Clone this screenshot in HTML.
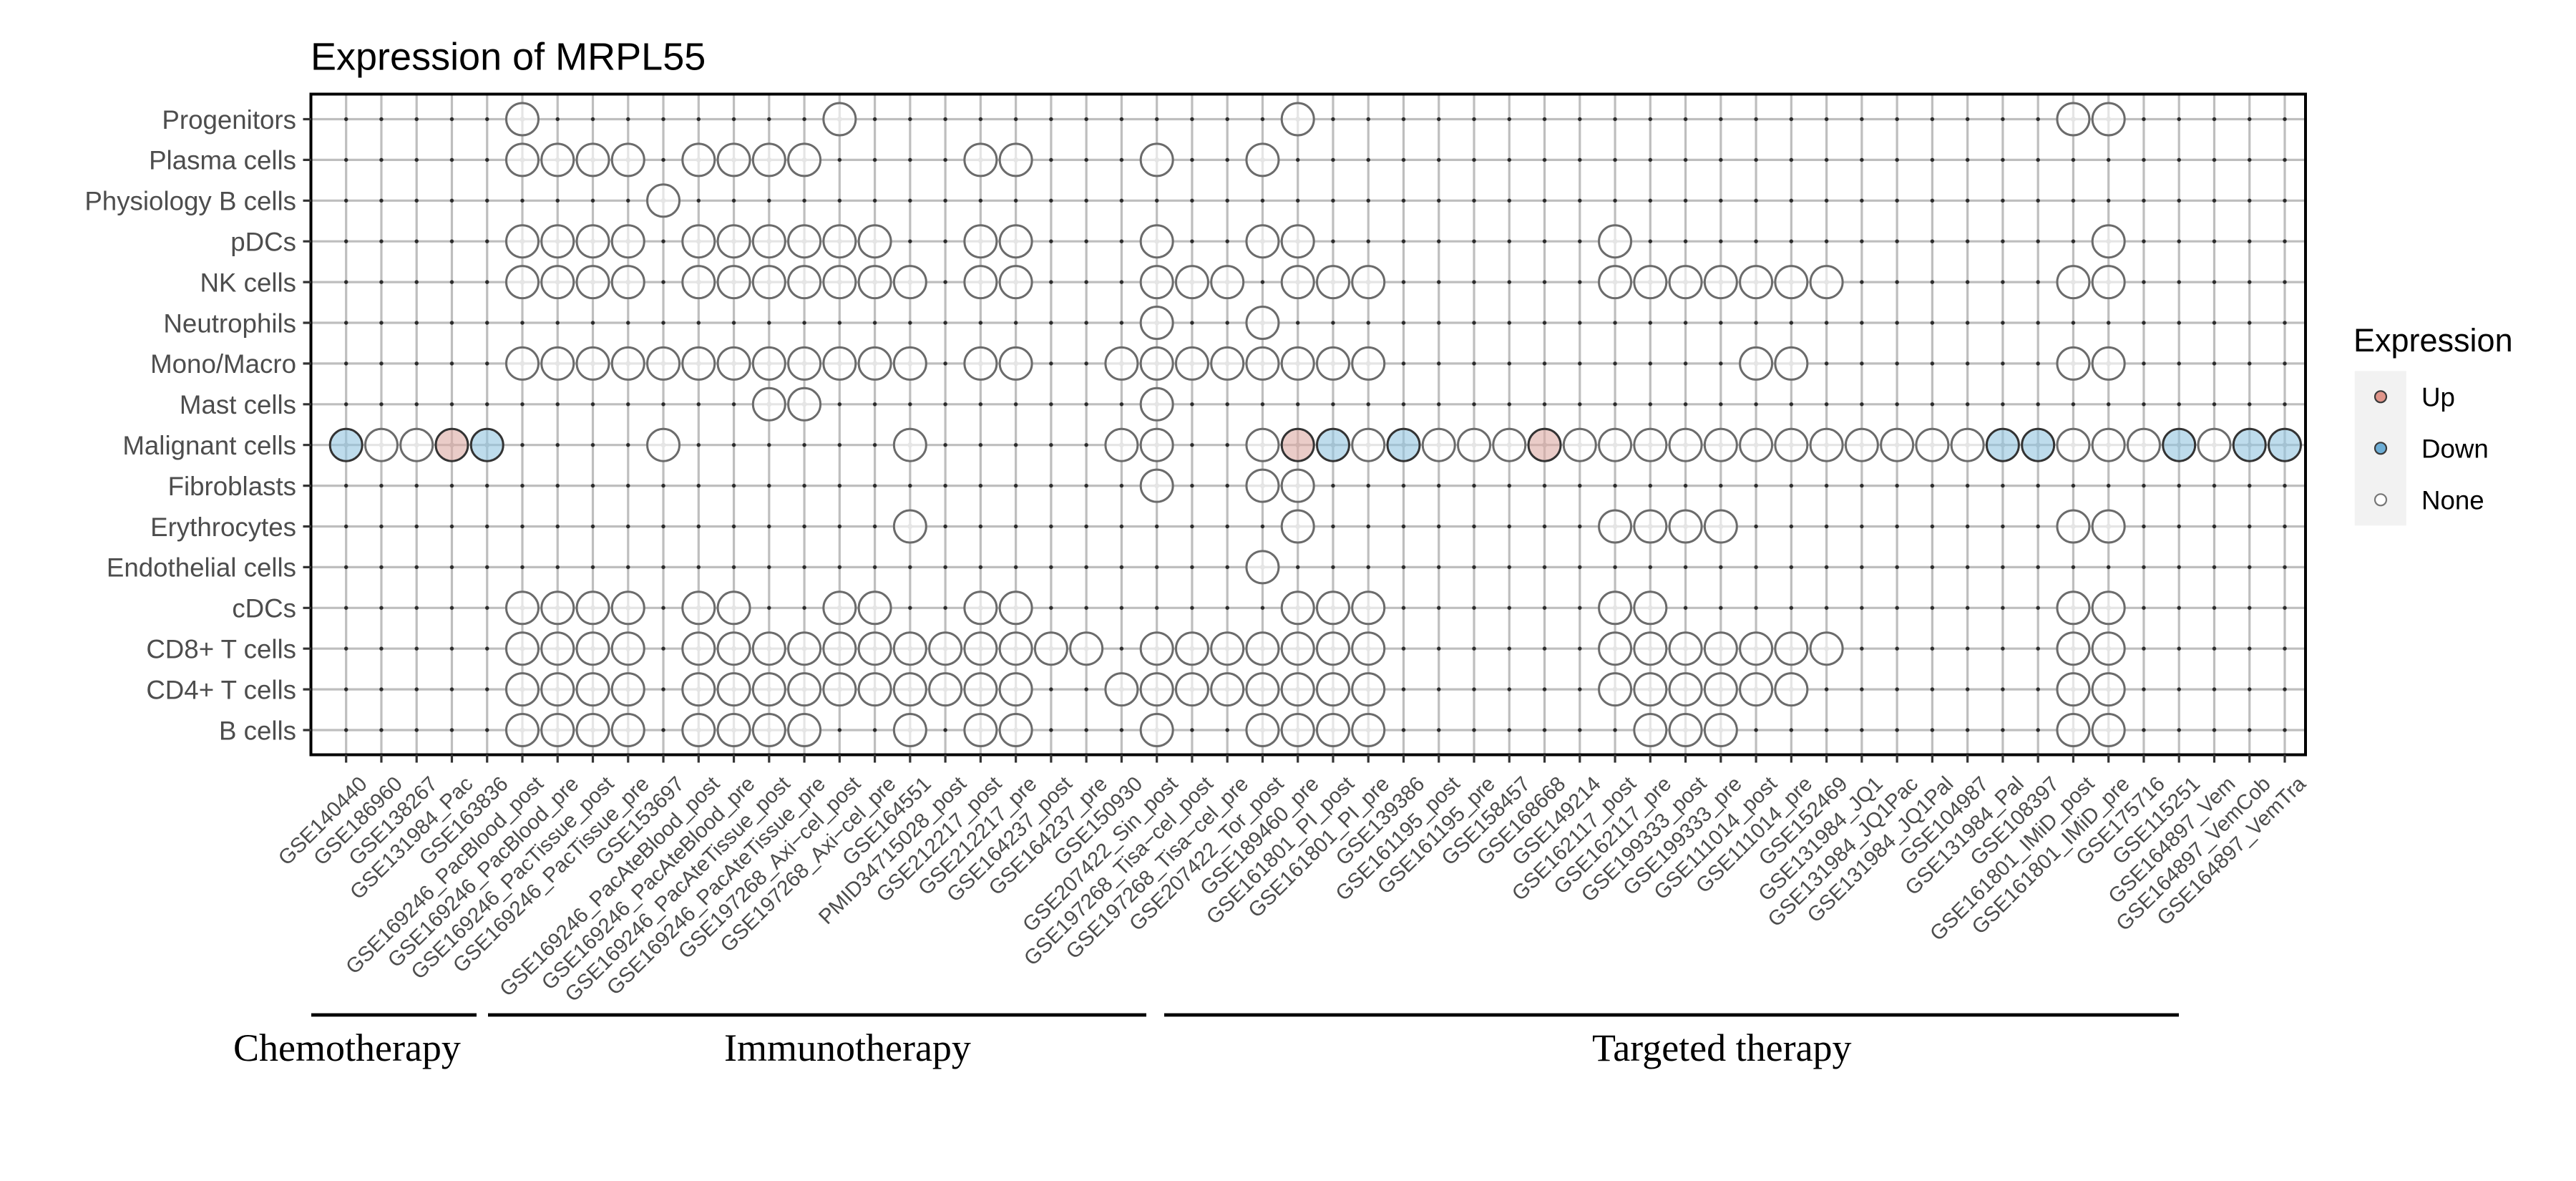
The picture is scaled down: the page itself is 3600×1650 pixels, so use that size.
<!DOCTYPE html>
<html>
<head>
<meta charset="utf-8">
<style>
html,body{margin:0;padding:0;background:#fff;}
svg{display:block;}
.yl{font-family:"Liberation Sans",Arial,sans-serif;font-size:36.7px;fill:#4d4d4d;text-anchor:end;}
.xl{font-family:"Liberation Sans",Arial,sans-serif;font-size:29.5px;fill:#4d4d4d;text-anchor:end;}
.ann{font-family:"Liberation Serif","Times New Roman",serif;font-size:54px;fill:#000;}
</style>
</head>
<body>
<svg width="3600" height="1650" viewBox="0 0 3600 1650" xmlns="http://www.w3.org/2000/svg" xmlns:xlink="http://www.w3.org/1999/xlink">
<defs>
<pattern id="dots" patternUnits="userSpaceOnUse" x="459.07" y="138.05" width="49.26" height="56.9">
<circle cx="24.63" cy="28.45" r="2.7" fill="#2b2b2b"/>
</pattern>
<g id="n"><circle r="3.5" fill="#bebebe"/><circle r="22.5" fill="#ffffff" fill-opacity="0.6" stroke="#6b6b6b" stroke-width="3"/></g>
<g id="d"><circle r="3.5" fill="#bebebe"/><circle r="22.5" fill="#93c5df" fill-opacity="0.6" stroke="#333333" stroke-width="3"/></g>
<g id="u"><circle r="3.5" fill="#bebebe"/><circle r="22.5" fill="#dcaaa3" fill-opacity="0.6" stroke="#333333" stroke-width="3"/></g>
</defs>
<rect width="3600" height="1650" fill="#fff"/>

<!-- title -->
<text x="434" y="97.6" style="font-family:'Liberation Sans',Arial,sans-serif;font-size:54px;fill:#000;">Expression of MRPL55</text>

<!-- grid -->
<path fill="none" stroke="#bebebe" stroke-width="3.2" d="
M483.7 131V1055M532.96 131V1055M582.22 131V1055M631.48 131V1055M680.74 131V1055M730 131V1055M779.26 131V1055M828.52 131V1055M877.78 131V1055M927.04 131V1055
M976.3 131V1055M1025.56 131V1055M1074.82 131V1055M1124.08 131V1055M1173.34 131V1055M1222.6 131V1055M1271.86 131V1055M1321.12 131V1055M1370.38 131V1055M1419.64 131V1055
M1468.9 131V1055M1518.16 131V1055M1567.42 131V1055M1616.68 131V1055M1665.94 131V1055M1715.2 131V1055M1764.46 131V1055M1813.72 131V1055M1862.98 131V1055M1912.24 131V1055
M1961.5 131V1055M2010.76 131V1055M2060.02 131V1055M2109.28 131V1055M2158.54 131V1055M2207.8 131V1055M2257.06 131V1055M2306.32 131V1055M2355.58 131V1055M2404.84 131V1055
M2454.1 131V1055M2503.36 131V1055M2552.62 131V1055M2601.88 131V1055M2651.14 131V1055M2700.4 131V1055M2749.66 131V1055M2798.92 131V1055M2848.18 131V1055M2897.44 131V1055
M2946.7 131V1055M2995.96 131V1055M3045.22 131V1055M3094.48 131V1055M3143.74 131V1055M3193 131V1055
M435 166.5H3222M435 223.4H3222M435 280.3H3222M435 337.2H3222M435 394.1H3222M435 451H3222M435 507.9H3222M435 564.8H3222
M435 621.7H3222M435 678.6H3222M435 735.5H3222M435 792.4H3222M435 849.3H3222M435 906.2H3222M435 963.1H3222M435 1020H3222"/>

<!-- intersection dots -->
<rect x="459.07" y="138.05" width="2758.56" height="910.4" fill="url(#dots)"/>

<!-- circles -->
<g transform="translate(0,166.5)">
<use href="#n" x="730"/><use href="#n" x="1173.34"/><use href="#n" x="1813.72"/><use href="#n" x="2897.44"/><use href="#n" x="2946.7"/>
</g>
<g transform="translate(0,223.4)">
<use href="#n" x="730"/><use href="#n" x="779.26"/><use href="#n" x="828.52"/><use href="#n" x="877.78"/><use href="#n" x="976.3"/><use href="#n" x="1025.56"/><use href="#n" x="1074.82"/><use href="#n" x="1124.08"/><use href="#n" x="1370.38"/><use href="#n" x="1419.64"/><use href="#n" x="1616.68"/><use href="#n" x="1764.46"/>
</g>
<g transform="translate(0,280.3)">
<use href="#n" x="927.04"/>
</g>
<g transform="translate(0,337.2)">
<use href="#n" x="730"/><use href="#n" x="779.26"/><use href="#n" x="828.52"/><use href="#n" x="877.78"/><use href="#n" x="976.3"/><use href="#n" x="1025.56"/><use href="#n" x="1074.82"/><use href="#n" x="1124.08"/><use href="#n" x="1173.34"/><use href="#n" x="1222.6"/><use href="#n" x="1370.38"/><use href="#n" x="1419.64"/><use href="#n" x="1616.68"/><use href="#n" x="1764.46"/><use href="#n" x="1813.72"/><use href="#n" x="2257.06"/><use href="#n" x="2946.7"/>
</g>
<g transform="translate(0,394.1)">
<use href="#n" x="730"/><use href="#n" x="779.26"/><use href="#n" x="828.52"/><use href="#n" x="877.78"/><use href="#n" x="976.3"/><use href="#n" x="1025.56"/><use href="#n" x="1074.82"/><use href="#n" x="1124.08"/><use href="#n" x="1173.34"/><use href="#n" x="1222.6"/><use href="#n" x="1271.86"/><use href="#n" x="1370.38"/><use href="#n" x="1419.64"/><use href="#n" x="1616.68"/><use href="#n" x="1665.94"/><use href="#n" x="1715.2"/><use href="#n" x="1813.72"/><use href="#n" x="1862.98"/><use href="#n" x="1912.24"/><use href="#n" x="2257.06"/><use href="#n" x="2306.32"/><use href="#n" x="2355.58"/><use href="#n" x="2404.84"/><use href="#n" x="2454.1"/><use href="#n" x="2503.36"/><use href="#n" x="2552.62"/><use href="#n" x="2897.44"/><use href="#n" x="2946.7"/>
</g>
<g transform="translate(0,451)">
<use href="#n" x="1616.68"/><use href="#n" x="1764.46"/>
</g>
<g transform="translate(0,507.9)">
<use href="#n" x="730"/><use href="#n" x="779.26"/><use href="#n" x="828.52"/><use href="#n" x="877.78"/><use href="#n" x="927.04"/><use href="#n" x="976.3"/><use href="#n" x="1025.56"/><use href="#n" x="1074.82"/><use href="#n" x="1124.08"/><use href="#n" x="1173.34"/><use href="#n" x="1222.6"/><use href="#n" x="1271.86"/><use href="#n" x="1370.38"/><use href="#n" x="1419.64"/><use href="#n" x="1567.42"/><use href="#n" x="1616.68"/><use href="#n" x="1665.94"/><use href="#n" x="1715.2"/><use href="#n" x="1764.46"/><use href="#n" x="1813.72"/><use href="#n" x="1862.98"/><use href="#n" x="1912.24"/><use href="#n" x="2454.1"/><use href="#n" x="2503.36"/><use href="#n" x="2897.44"/><use href="#n" x="2946.7"/>
</g>
<g transform="translate(0,564.8)">
<use href="#n" x="1074.82"/><use href="#n" x="1124.08"/><use href="#n" x="1616.68"/>
</g>
<g transform="translate(0,621.7)">
<use href="#d" x="483.7"/><use href="#n" x="532.96"/><use href="#n" x="582.22"/><use href="#u" x="631.48"/><use href="#d" x="680.74"/><use href="#n" x="927.04"/><use href="#n" x="1271.86"/><use href="#n" x="1567.42"/><use href="#n" x="1616.68"/><use href="#n" x="1764.46"/><use href="#u" x="1813.72"/><use href="#d" x="1862.98"/><use href="#n" x="1912.24"/><use href="#d" x="1961.5"/><use href="#n" x="2010.76"/><use href="#n" x="2060.02"/><use href="#n" x="2109.28"/><use href="#u" x="2158.54"/><use href="#n" x="2207.8"/><use href="#n" x="2257.06"/><use href="#n" x="2306.32"/><use href="#n" x="2355.58"/><use href="#n" x="2404.84"/><use href="#n" x="2454.1"/><use href="#n" x="2503.36"/><use href="#n" x="2552.62"/><use href="#n" x="2601.88"/><use href="#n" x="2651.14"/><use href="#n" x="2700.4"/><use href="#n" x="2749.66"/><use href="#d" x="2798.92"/><use href="#d" x="2848.18"/><use href="#n" x="2897.44"/><use href="#n" x="2946.7"/><use href="#n" x="2995.96"/><use href="#d" x="3045.22"/><use href="#n" x="3094.48"/><use href="#d" x="3143.74"/><use href="#d" x="3193"/>
</g>
<g transform="translate(0,678.6)">
<use href="#n" x="1616.68"/><use href="#n" x="1764.46"/><use href="#n" x="1813.72"/>
</g>
<g transform="translate(0,735.5)">
<use href="#n" x="1271.86"/><use href="#n" x="1813.72"/><use href="#n" x="2257.06"/><use href="#n" x="2306.32"/><use href="#n" x="2355.58"/><use href="#n" x="2404.84"/><use href="#n" x="2897.44"/><use href="#n" x="2946.7"/>
</g>
<g transform="translate(0,792.4)">
<use href="#n" x="1764.46"/>
</g>
<g transform="translate(0,849.3)">
<use href="#n" x="730"/><use href="#n" x="779.26"/><use href="#n" x="828.52"/><use href="#n" x="877.78"/><use href="#n" x="976.3"/><use href="#n" x="1025.56"/><use href="#n" x="1173.34"/><use href="#n" x="1222.6"/><use href="#n" x="1370.38"/><use href="#n" x="1419.64"/><use href="#n" x="1813.72"/><use href="#n" x="1862.98"/><use href="#n" x="1912.24"/><use href="#n" x="2257.06"/><use href="#n" x="2306.32"/><use href="#n" x="2897.44"/><use href="#n" x="2946.7"/>
</g>
<g transform="translate(0,906.2)">
<use href="#n" x="730"/><use href="#n" x="779.26"/><use href="#n" x="828.52"/><use href="#n" x="877.78"/><use href="#n" x="976.3"/><use href="#n" x="1025.56"/><use href="#n" x="1074.82"/><use href="#n" x="1124.08"/><use href="#n" x="1173.34"/><use href="#n" x="1222.6"/><use href="#n" x="1271.86"/><use href="#n" x="1321.12"/><use href="#n" x="1370.38"/><use href="#n" x="1419.64"/><use href="#n" x="1468.9"/><use href="#n" x="1518.16"/><use href="#n" x="1616.68"/><use href="#n" x="1665.94"/><use href="#n" x="1715.2"/><use href="#n" x="1764.46"/><use href="#n" x="1813.72"/><use href="#n" x="1862.98"/><use href="#n" x="1912.24"/><use href="#n" x="2257.06"/><use href="#n" x="2306.32"/><use href="#n" x="2355.58"/><use href="#n" x="2404.84"/><use href="#n" x="2454.1"/><use href="#n" x="2503.36"/><use href="#n" x="2552.62"/><use href="#n" x="2897.44"/><use href="#n" x="2946.7"/>
</g>
<g transform="translate(0,963.1)">
<use href="#n" x="730"/><use href="#n" x="779.26"/><use href="#n" x="828.52"/><use href="#n" x="877.78"/><use href="#n" x="976.3"/><use href="#n" x="1025.56"/><use href="#n" x="1074.82"/><use href="#n" x="1124.08"/><use href="#n" x="1173.34"/><use href="#n" x="1222.6"/><use href="#n" x="1271.86"/><use href="#n" x="1321.12"/><use href="#n" x="1370.38"/><use href="#n" x="1419.64"/><use href="#n" x="1567.42"/><use href="#n" x="1616.68"/><use href="#n" x="1665.94"/><use href="#n" x="1715.2"/><use href="#n" x="1764.46"/><use href="#n" x="1813.72"/><use href="#n" x="1862.98"/><use href="#n" x="1912.24"/><use href="#n" x="2257.06"/><use href="#n" x="2306.32"/><use href="#n" x="2355.58"/><use href="#n" x="2404.84"/><use href="#n" x="2454.1"/><use href="#n" x="2503.36"/><use href="#n" x="2897.44"/><use href="#n" x="2946.7"/>
</g>
<g transform="translate(0,1020)">
<use href="#n" x="730"/><use href="#n" x="779.26"/><use href="#n" x="828.52"/><use href="#n" x="877.78"/><use href="#n" x="976.3"/><use href="#n" x="1025.56"/><use href="#n" x="1074.82"/><use href="#n" x="1124.08"/><use href="#n" x="1271.86"/><use href="#n" x="1370.38"/><use href="#n" x="1419.64"/><use href="#n" x="1616.68"/><use href="#n" x="1764.46"/><use href="#n" x="1813.72"/><use href="#n" x="1862.98"/><use href="#n" x="1912.24"/><use href="#n" x="2306.32"/><use href="#n" x="2355.58"/><use href="#n" x="2404.84"/><use href="#n" x="2897.44"/><use href="#n" x="2946.7"/>
</g>

<!-- panel border -->
<rect x="434.5" y="131.5" width="2787.5" height="923" fill="none" stroke="#000" stroke-width="4"/>

<!-- ticks -->
<path fill="none" stroke="#333" stroke-width="3.2" d="
M423.5 166.5H435M423.5 223.4H435M423.5 280.3H435M423.5 337.2H435M423.5 394.1H435M423.5 451H435M423.5 507.9H435M423.5 564.8H435
M423.5 621.7H435M423.5 678.6H435M423.5 735.5H435M423.5 792.4H435M423.5 849.3H435M423.5 906.2H435M423.5 963.1H435M423.5 1020H435
M483.7 1054V1065.5M532.96 1054V1065.5M582.22 1054V1065.5M631.48 1054V1065.5M680.74 1054V1065.5M730 1054V1065.5M779.26 1054V1065.5M828.52 1054V1065.5M877.78 1054V1065.5M927.04 1054V1065.5
M976.3 1054V1065.5M1025.56 1054V1065.5M1074.82 1054V1065.5M1124.08 1054V1065.5M1173.34 1054V1065.5M1222.6 1054V1065.5M1271.86 1054V1065.5M1321.12 1054V1065.5M1370.38 1054V1065.5M1419.64 1054V1065.5
M1468.9 1054V1065.5M1518.16 1054V1065.5M1567.42 1054V1065.5M1616.68 1054V1065.5M1665.94 1054V1065.5M1715.2 1054V1065.5M1764.46 1054V1065.5M1813.72 1054V1065.5M1862.98 1054V1065.5M1912.24 1054V1065.5
M1961.5 1054V1065.5M2010.76 1054V1065.5M2060.02 1054V1065.5M2109.28 1054V1065.5M2158.54 1054V1065.5M2207.8 1054V1065.5M2257.06 1054V1065.5M2306.32 1054V1065.5M2355.58 1054V1065.5M2404.84 1054V1065.5
M2454.1 1054V1065.5M2503.36 1054V1065.5M2552.62 1054V1065.5M2601.88 1054V1065.5M2651.14 1054V1065.5M2700.4 1054V1065.5M2749.66 1054V1065.5M2798.92 1054V1065.5M2848.18 1054V1065.5M2897.44 1054V1065.5
M2946.7 1054V1065.5M2995.96 1054V1065.5M3045.22 1054V1065.5M3094.48 1054V1065.5M3143.74 1054V1065.5M3193 1054V1065.5"/>

<!-- y labels -->
<text class="yl" x="414" y="179.8">Progenitors</text>
<text class="yl" x="414" y="236.7">Plasma cells</text>
<text class="yl" x="414" y="293.6">Physiology B cells</text>
<text class="yl" x="414" y="350.5">pDCs</text>
<text class="yl" x="414" y="407.4">NK cells</text>
<text class="yl" x="414" y="464.3">Neutrophils</text>
<text class="yl" x="414" y="521.2">Mono/Macro</text>
<text class="yl" x="414" y="578.1">Mast cells</text>
<text class="yl" x="414" y="635">Malignant cells</text>
<text class="yl" x="414" y="691.9">Fibroblasts</text>
<text class="yl" x="414" y="748.8">Erythrocytes</text>
<text class="yl" x="414" y="805.7">Endothelial cells</text>
<text class="yl" x="414" y="862.6">cDCs</text>
<text class="yl" x="414" y="919.5">CD8+ T cells</text>
<text class="yl" x="414" y="976.4">CD4+ T cells</text>
<text class="yl" x="414" y="1033.3">B cells</text>

<!-- x labels -->
<text class="xl" transform="translate(514.7,1097) rotate(-45)">GSE140440</text>
<text class="xl" transform="translate(564,1097) rotate(-45)">GSE186960</text>
<text class="xl" transform="translate(613.2,1097) rotate(-45)">GSE138267</text>
<text class="xl" transform="translate(662.5,1097) rotate(-45)">GSE131984_Pac</text>
<text class="xl" transform="translate(711.7,1097) rotate(-45)">GSE163836</text>
<text class="xl" transform="translate(761,1097) rotate(-45)">GSE169246_PacBlood_post</text>
<text class="xl" transform="translate(810.3,1097) rotate(-45)">GSE169246_PacBlood_pre</text>
<text class="xl" transform="translate(859.5,1097) rotate(-45)">GSE169246_PacTissue_post</text>
<text class="xl" transform="translate(908.8,1097) rotate(-45)">GSE169246_PacTissue_pre</text>
<text class="xl" transform="translate(958,1097) rotate(-45)">GSE153697</text>
<text class="xl" transform="translate(1007.3,1097) rotate(-45)">GSE169246_PacAteBlood_post</text>
<text class="xl" transform="translate(1056.6,1097) rotate(-45)">GSE169246_PacAteBlood_pre</text>
<text class="xl" transform="translate(1105.8,1097) rotate(-45)">GSE169246_PacAteTissue_post</text>
<text class="xl" transform="translate(1155.1,1097) rotate(-45)">GSE169246_PacAteTissue_pre</text>
<text class="xl" transform="translate(1204.3,1097) rotate(-45)">GSE197268_Axi−cel_post</text>
<text class="xl" transform="translate(1253.6,1097) rotate(-45)">GSE197268_Axi−cel_pre</text>
<text class="xl" transform="translate(1302.9,1097) rotate(-45)">GSE164551</text>
<text class="xl" transform="translate(1352.1,1097) rotate(-45)">PMID34715028_post</text>
<text class="xl" transform="translate(1401.4,1097) rotate(-45)">GSE212217_post</text>
<text class="xl" transform="translate(1450.6,1097) rotate(-45)">GSE212217_pre</text>
<text class="xl" transform="translate(1499.9,1097) rotate(-45)">GSE164237_post</text>
<text class="xl" transform="translate(1549.2,1097) rotate(-45)">GSE164237_pre</text>
<text class="xl" transform="translate(1598.4,1097) rotate(-45)">GSE150930</text>
<text class="xl" transform="translate(1647.7,1097) rotate(-45)">GSE207422_Sin_post</text>
<text class="xl" transform="translate(1696.9,1097) rotate(-45)">GSE197268_Tisa−cel_post</text>
<text class="xl" transform="translate(1746.2,1097) rotate(-45)">GSE197268_Tisa−cel_pre</text>
<text class="xl" transform="translate(1795.5,1097) rotate(-45)">GSE207422_Tor_post</text>
<text class="xl" transform="translate(1844.7,1097) rotate(-45)">GSE189460_pre</text>
<text class="xl" transform="translate(1894,1097) rotate(-45)">GSE161801_PI_post</text>
<text class="xl" transform="translate(1943.2,1097) rotate(-45)">GSE161801_PI_pre</text>
<text class="xl" transform="translate(1992.5,1097) rotate(-45)">GSE139386</text>
<text class="xl" transform="translate(2041.8,1097) rotate(-45)">GSE161195_post</text>
<text class="xl" transform="translate(2091,1097) rotate(-45)">GSE161195_pre</text>
<text class="xl" transform="translate(2140.3,1097) rotate(-45)">GSE158457</text>
<text class="xl" transform="translate(2189.5,1097) rotate(-45)">GSE168668</text>
<text class="xl" transform="translate(2238.8,1097) rotate(-45)">GSE149214</text>
<text class="xl" transform="translate(2288.1,1097) rotate(-45)">GSE162117_post</text>
<text class="xl" transform="translate(2337.3,1097) rotate(-45)">GSE162117_pre</text>
<text class="xl" transform="translate(2386.6,1097) rotate(-45)">GSE199333_post</text>
<text class="xl" transform="translate(2435.8,1097) rotate(-45)">GSE199333_pre</text>
<text class="xl" transform="translate(2485.1,1097) rotate(-45)">GSE111014_post</text>
<text class="xl" transform="translate(2534.4,1097) rotate(-45)">GSE111014_pre</text>
<text class="xl" transform="translate(2583.6,1097) rotate(-45)">GSE152469</text>
<text class="xl" transform="translate(2632.9,1097) rotate(-45)">GSE131984_JQ1</text>
<text class="xl" transform="translate(2682.1,1097) rotate(-45)">GSE131984_JQ1Pac</text>
<text class="xl" transform="translate(2731.4,1097) rotate(-45)">GSE131984_JQ1Pal</text>
<text class="xl" transform="translate(2780.7,1097) rotate(-45)">GSE104987</text>
<text class="xl" transform="translate(2829.9,1097) rotate(-45)">GSE131984_Pal</text>
<text class="xl" transform="translate(2879.2,1097) rotate(-45)">GSE108397</text>
<text class="xl" transform="translate(2928.4,1097) rotate(-45)">GSE161801_IMiD_post</text>
<text class="xl" transform="translate(2977.7,1097) rotate(-45)">GSE161801_IMiD_pre</text>
<text class="xl" transform="translate(3027,1097) rotate(-45)">GSE175716</text>
<text class="xl" transform="translate(3076.2,1097) rotate(-45)">GSE115251</text>
<text class="xl" transform="translate(3125.5,1097) rotate(-45)">GSE164897_Vem</text>
<text class="xl" transform="translate(3174.7,1097) rotate(-45)">GSE164897_VemCob</text>
<text class="xl" transform="translate(3224,1097) rotate(-45)">GSE164897_VemTra</text>

<!-- legend -->
<text x="3289" y="491" style="font-family:'Liberation Sans',Arial,sans-serif;font-size:45px;fill:#000;">Expression</text>
<rect x="3290.8" y="518.3" width="72" height="216" fill="#f2f2f2"/>
<circle cx="3327" cy="554.3" r="8" fill="#e0958a" stroke="#3a3a3a" stroke-width="2.2"/>
<circle cx="3327" cy="626.3" r="8" fill="#6daed6" stroke="#3a3a3a" stroke-width="2.2"/>
<circle cx="3327" cy="698.3" r="8" fill="#ffffff" stroke="#777777" stroke-width="2.2"/>
<text x="3384" y="567.3" style="font-family:'Liberation Sans',Arial,sans-serif;font-size:36.7px;fill:#000;">Up</text>
<text x="3384" y="639.3" style="font-family:'Liberation Sans',Arial,sans-serif;font-size:36.7px;fill:#000;">Down</text>
<text x="3384" y="711.3" style="font-family:'Liberation Sans',Arial,sans-serif;font-size:36.7px;fill:#000;">None</text>

<!-- therapy annotation -->
<path fill="none" stroke="#000" stroke-width="4.7" d="M435 1418H666M682 1418H1602M1627 1418H3045"/>
<text class="ann" x="326" y="1482">Chemotherapy</text>
<text class="ann" x="1012" y="1482">Immunotherapy</text>
<text class="ann" x="2225" y="1482">Targeted therapy</text>
</svg>
</body>
</html>
